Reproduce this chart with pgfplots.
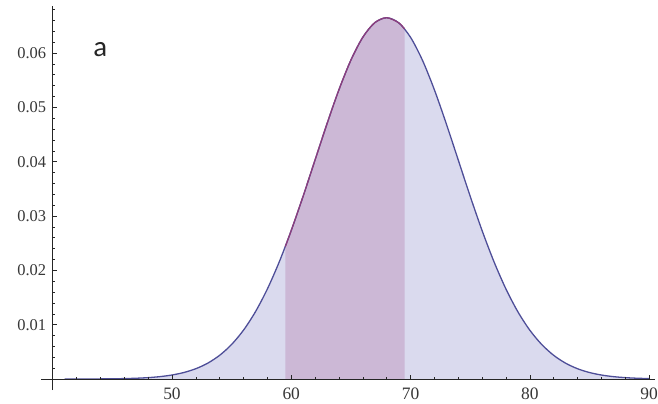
\documentclass[border=0pt]{standalone}
\usepackage{pgfplots}
\pgfplotsset{compat=1.18}
\usepackage{pgfplotstable}
\usepackage{fontspec}
\setmainfont{Liberation Serif}
\newfontfamily\labelfont{Carlito}
\definecolor{lightfill}{RGB}{218,218,238}
\definecolor{midfill}{RGB}{204,184,214}
\definecolor{curveblue}{RGB}{78,78,152}
\definecolor{curvered}{RGB}{140,62,125}
\definecolor{ticktext}{RGB}{55,55,55}

% normal density, mean 68, sd 6
\pgfplotstableread{
x y
41 0.0000027
42 0.0000056
43 0.0000113
44 0.0000223
45 0.0000429
46 0.0000800
47 0.000145
48 0.000257
49 0.000442
50 0.000739
51 0.001201
52 0.001899
53 0.002921
54 0.004370
55 0.006359
56 0.008998
57 0.012385
58 0.016580
59 0.021586
60 0.027335
61 0.033666
62 0.040329
63 0.046985
64 0.053241
65 0.058677
66 0.062897
67 0.065573
68 0.066490
69 0.065573
70 0.062897
71 0.058677
72 0.053241
73 0.046985
74 0.040329
75 0.033666
76 0.027335
77 0.021586
78 0.016580
79 0.012385
80 0.008998
81 0.006359
82 0.004370
83 0.002921
84 0.001899
85 0.001201
86 0.000739
87 0.000442
88 0.000257
89 0.000145
90 0.0000800
}\fulltbl

% shaded band 59.5 -- 69.5
\pgfplotstableread{
x y
59.5 0.024376
60 0.027335
61 0.033666
62 0.040329
63 0.046985
64 0.053241
65 0.058677
66 0.062897
67 0.065573
68 0.066490
69 0.065573
69.5 0.064445
}\midtbl

\begin{document}
\begin{tikzpicture}
\begin{axis}[
  scale only axis, width=602.3bp, height=384bp,
  xmin=40, xmax=90.5, ymin=-0.00202, ymax=0.06865,
  axis x line=middle, axis y line=left,
  axis line style={-, black!85, line width=0.6pt},
  axis on top,
  xtick={50,60,70,80,90},
  minor xtick={42,44,46,48,52,54,56,58,62,64,66,68,72,74,76,78,82,84,86,88},
  ytick={0.01,0.02,0.03,0.04,0.05,0.06},
  minor ytick={0.002,0.004,0.006,0.008,0.012,0.014,0.016,0.018,0.022,0.024,0.026,0.028,0.032,0.034,0.036,0.038,0.042,0.044,0.046,0.048,0.052,0.054,0.056,0.058,0.062,0.064,0.066,0.068},
  tick align=inside,
  major tick length=4.5bp, minor tick length=2.5bp,
  tick style={black!85, line width=0.5pt},
  /pgf/number format/assume math mode=true,
  xticklabel style={font=\fontsize{17.5}{19}\selectfont, text=ticktext, yshift=-5bp},
  yticklabel style={font=\fontsize{16.5}{18}\selectfont, text=ticktext, xshift=-3bp,
    /pgf/number format/fixed, /pgf/number format/precision=2, /pgf/number format/fixed zerofill},
  scaled y ticks=false,
  clip=true,
]
\addplot[draw=none, fill=lightfill, smooth] table {\fulltbl} \closedcycle;
\addplot[draw=none, fill=midfill, smooth] table {\midtbl} \closedcycle;
\addplot[curveblue, line width=1.3pt, smooth] table {\fulltbl};
\addplot[curvered, line width=1.3pt, smooth] table {\midtbl};
\node[font=\labelfont\fontsize{29}{30}\selectfont, text=black!85] at (axis cs:44,0.0606) {a};
\coordinate (sw) at (rel axis cs:0,0);
\coordinate (ne) at (rel axis cs:1,1);
\coordinate (orig) at (axis cs:40,0);
\end{axis}
\draw[black!85, line width=0.6pt] (orig) -- ++(-12bp,0);
\pgfresetboundingbox
\path ([shift={(-52.7bp,-14bp)}]sw) rectangle ([shift={(3bp,6bp)}]ne);
\end{tikzpicture}
\end{document}
